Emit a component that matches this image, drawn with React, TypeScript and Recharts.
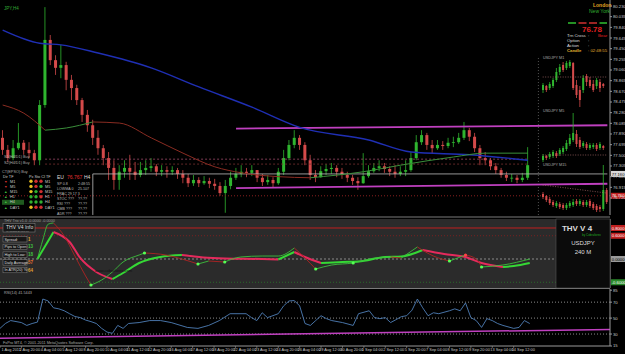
import React from 'react'
import { ComposedChart, Bar, Line, XAxis, YAxis, ReferenceLine } from 'recharts'

const BULL = '#2fb52f'
const BEAR = '#d44a4a'
const SLOTS = 115
const FONT = '"Liberation Sans", Arial, sans-serif'

// USDJPY H4 candles: open of the first bar, then close / high / low of each bar
const firstOpen = 77.82
const closes = [
  77.60, 77.45, 77.63, 77.73, 77.60, 77.54, 77.41, 78.42, 79.61, 79.24,
  79.10, 79.15, 78.88, 78.73, 78.51, 78.24, 78.05, 77.82, 77.63, 77.45,
  77.27, 77.05, 77.20, 77.27, 77.20, 77.14, 77.23, 77.27, 77.30, 77.20,
  77.23, 77.20, 77.23, 77.16, 77.09, 76.99, 77.05, 76.99, 77.03, 76.98,
  76.94, 76.81, 76.94, 77.09, 77.16, 77.20, 77.18, 77.23, 77.09, 77.01,
  77.05, 76.99, 77.20, 77.45, 77.69, 77.82, 77.69, 77.41, 77.14, 77.10,
  77.21, 77.25, 77.27, 77.20, 77.14, 77.09, 77.03, 76.99, 77.12, 77.21,
  77.27, 77.30, 77.25, 77.20, 77.16, 77.20, 77.23, 77.45, 77.74, 77.87,
  77.69, 77.63, 77.69, 77.67, 77.73, 77.74, 77.82, 77.96, 77.84, 77.63,
  77.45, 77.41, 77.30, 77.23, 77.14, 77.09, 77.09, 77.05, 77.09, 77.32,
]
const highs = [
  77.96, 77.69, 77.78, 78.09, 77.78, 77.74, 77.60, 78.51, 80.21, 79.70,
  79.33, 79.52, 79.21, 78.97, 78.79, 78.55, 78.33, 78.15, 77.96, 77.69,
  77.56, 77.41, 77.32, 77.41, 77.51, 77.38, 77.38, 77.41, 77.45, 77.34,
  77.32, 77.30, 77.30, 77.27, 77.23, 77.16, 77.14, 77.10, 77.12, 77.09,
  77.07, 77.01, 77.05, 77.20, 77.27, 77.32, 77.27, 77.32, 77.23, 77.16,
  77.14, 77.10, 77.27, 77.60, 77.78, 77.96, 77.87, 77.74, 77.51, 77.23,
  77.30, 77.34, 77.36, 77.32, 77.27, 77.20, 77.14, 77.10, 77.54, 77.32,
  77.36, 77.41, 77.36, 77.30, 77.32, 77.30, 77.41, 77.56, 77.87, 77.96,
  77.91, 77.78, 77.78, 77.76, 77.82, 77.84, 77.91, 78.11, 78.00, 77.91,
  77.69, 77.56, 77.45, 77.36, 77.27, 77.20, 77.16, 77.14, 77.18, 77.65,
]
const lows = [
  77.51, 77.38, 77.41, 77.60, 77.51, 77.45, 77.32, 77.32, 78.37, 79.15,
  78.97, 78.91, 78.69, 78.51, 78.42, 78.11, 77.93, 77.69, 77.51, 77.32,
  77.05, 76.87, 76.87, 77.09, 77.05, 77.05, 77.10, 77.14, 77.20, 77.12,
  77.12, 77.09, 77.14, 77.07, 76.99, 76.92, 76.94, 76.92, 76.96, 76.90,
  76.87, 76.76, 76.45, 76.88, 77.05, 77.10, 77.10, 77.12, 77.01, 76.94,
  76.96, 76.92, 76.96, 77.14, 77.41, 77.63, 77.60, 77.32, 77.05, 77.01,
  77.09, 77.14, 77.16, 77.10, 77.07, 77.01, 76.96, 76.87, 76.98, 77.09,
  77.18, 77.21, 77.18, 77.12, 77.09, 77.12, 77.12, 77.20, 77.41, 77.69,
  77.60, 77.54, 77.60, 77.60, 77.63, 77.65, 77.71, 77.78, 77.76, 77.56,
  77.32, 77.32, 77.23, 77.16, 77.09, 77.03, 77.01, 76.99, 77.01, 77.05,
]

const priceTicks = [
  80.23, 80.035, 79.84, 79.645, 79.45, 79.255, 79.06, 78.865, 78.67, 78.475,
  78.28, 78.085, 77.89, 77.695, 77.5, 77.305, 77.11, 76.915, 76.72,
]

const dateLabels = [
  '1 Aug 2011', '2 Aug 20:00', '4 Aug 04:00', '5 Aug 12:00', '8 Aug 20:00',
  '10 Aug 04:00', '11 Aug 12:00', '12 Aug 20:00', '16 Aug 04:00', '17 Aug 12:00',
  '18 Aug 20:00', '22 Aug 04:00', '23 Aug 12:00', '24 Aug 20:00', '26 Aug 04:00',
  '29 Aug 12:00', '30 Aug 20:00', '1 Sep 04:00', '2 Sep 12:00', '5 Sep 20:00',
  '7 Sep 04:00', '8 Sep 12:00', '9 Sep 20:00', '13 Sep 04:00', '14 Sep 12:00',
]

type Pt = [number, number]

// moving averages [bar, price]
const maBlue: Pt[] = [
  [0, 79.79], [7, 79.55], [11, 79.52], [18, 79.37], [28, 79.1], [37, 78.75],
  [47, 78.38], [56, 78.01], [69, 77.78], [77, 77.56], [88, 77.51], [99, 77.41],
]
const emaPts: Pt[] = [
  [0, 78.42], [4, 78.27], [8, 77.96], [12, 78.0], [17, 78.11], [22, 78.09],
  [28, 77.82], [34, 77.54], [40, 77.29], [45, 77.18], [52, 77.11], [58, 77.09],
  [68, 77.2], [75, 77.32], [85, 77.47], [91, 77.54], [99, 77.54],
]

// THV Trix oscillator [bar, value]
const oscSlow: Pt[] = [
  [7, 0], [10, 0.697], [13, 0.439], [15, 0.026], [18, -0.335], [21, -0.516],
  [23, -0.361], [26, -0.103], [30, 0.052], [34, 0.103], [38, 0.04], [42, 0.013],
  [49, 0], [52, -0.013], [55, 0.181], [57, 0.052], [60, -0.103], [64, -0.077],
  [67, -0.065], [72, 0.052], [75, 0.065], [79, 0.232], [83, 0.129], [87, 0.052],
  [90, -0.103], [94, -0.206], [96, -0.181], [99, -0.103],
]
const oscFast: Pt[] = [
  [7, 0], [8, 0.49], [9, 0.9], [10, 0.93], [12, 0.594], [14, 0.077], [16, -0.439],
  [17, -0.671], [19, -0.542], [21, -0.335], [23, -0.077], [26, 0.103], [27, 0.155],
  [31, 0.103], [34, 0], [37, -0.129], [39, -0.052], [42, -0.077], [45, 0.052],
  [49, 0.077], [52, 0.077], [55, 0.284], [57, 0.026], [59, -0.258], [62, -0.155],
  [66, -0.103], [70, 0.026], [73, 0.052], [75, 0.026], [78, 0.31], [81, 0.077],
  [84, -0.052], [87, 0.103], [89, 0], [90, -0.206], [94, -0.155], [99, 0],
]
const oscMarks: [number, string][] = [
  [17, '#5f5'], [27, '#5f5'], [37, '#5f5'], [42, '#5f5'], [59, '#5f5'],
  [66, '#5f5'], [84, '#5f5'], [87, '#f44'], [90, '#5f5'],
]

// RSI(14) [bar, value]
const rsiPts: Pt[] = [
  [0, 37.1], [1, 43.2], [2, 46.9], [4, 44.4], [5, 40.8], [6, 43.2], [7, 45], [8, 73.9],
  [9, 71.5], [10, 62.9], [11, 61.6], [12, 59.2], [13, 55.5], [14, 52], [15, 50.6],
  [16, 47.5], [17, 45.6], [18, 43.2], [19, 37.1], [20, 32.5], [21, 30.9], [22, 40.8],
  [23, 37.1], [24, 43.2], [26, 44.4], [28, 46.9], [30, 46.9], [32, 44.4], [35, 38.3],
  [37, 37.1], [39, 40.8], [41, 46.9], [43, 55.5], [46, 55.5], [47, 50.6], [48, 46.9],
  [49, 56.7], [50, 50.6], [52, 55.5], [53, 65.3], [54, 71.5], [55, 72], [56, 65.3],
  [57, 43.2], [58, 40.8], [59, 46.9], [60, 53], [61, 49.3], [62, 46.9], [64, 44.4],
  [66, 40.8], [67, 55.5], [69, 59.2], [70, 50.6], [71, 49.3], [72, 50.6], [73, 44.4],
  [74, 48], [75, 51.8], [76, 53], [77, 60], [78, 73.9], [79, 62.9], [80, 53],
  [81, 56.7], [82, 55.5], [84, 59.2], [85, 61.6], [86, 59.2], [87, 69], [88, 50.6],
  [89, 46.9], [90, 38.3], [91, 49.3], [92, 46.9], [93, 43.2], [94, 40.8], [96, 37.1],
  [97, 38.3], [98, 46.9], [99, 43.2],
]

// small USDJPY windows [open, high, low, close]
const m1 = [
  [76.808, 76.815, 76.805, 76.813], [76.812, 76.813, 76.806, 76.808], [76.81, 76.816, 76.808, 76.814],
  [76.812, 76.82, 76.81, 76.818], [76.818, 76.83, 76.816, 76.826], [76.826, 76.834, 76.823, 76.831],
  [76.833, 76.836, 76.826, 76.828], [76.83, 76.837, 76.828, 76.835], [76.832, 76.838, 76.83, 76.836],
  [76.835, 76.836, 76.808, 76.81], [76.813, 76.818, 76.8, 76.803], [76.808, 76.812, 76.791, 76.798],
  [76.808, 76.823, 76.805, 76.82], [76.822, 76.824, 76.812, 76.816], [76.818, 76.821, 76.81, 76.812],
  [76.814, 76.818, 76.806, 76.808], [76.812, 76.82, 76.809, 76.818], [76.816, 76.819, 76.806, 76.81],
  [76.814, 76.815, 76.81, 76.812],
]
const m5 = [
  [76.79, 76.796, 76.788, 76.794], [76.794, 76.795, 76.79, 76.792], [76.793, 76.798, 76.791, 76.796],
  [76.794, 76.8, 76.792, 76.798], [76.797, 76.799, 76.792, 76.794], [76.796, 76.802, 76.794, 76.8],
  [76.798, 76.804, 76.796, 76.802], [76.801, 76.81, 76.799, 76.807], [76.806, 76.816, 76.804, 76.812],
  [76.81, 76.837, 76.808, 76.817], [76.816, 76.82, 76.803, 76.806], [76.81, 76.813, 76.801, 76.803],
  [76.804, 76.809, 76.802, 76.807], [76.806, 76.808, 76.8, 76.802], [76.802, 76.807, 76.8, 76.805],
  [76.803, 76.807, 76.801, 76.805], [76.805, 76.807, 76.799, 76.801], [76.802, 76.808, 76.8, 76.806],
  [76.804, 76.805, 76.8, 76.802],
]
const m15 = [
  [76.81, 76.812, 76.805, 76.807], [76.808, 76.809, 76.802, 76.804], [76.805, 76.807, 76.799, 76.801],
  [76.802, 76.804, 76.797, 76.799], [76.798, 76.803, 76.796, 76.801], [76.8, 76.802, 76.795, 76.797],
  [76.799, 76.801, 76.794, 76.796], [76.796, 76.801, 76.794, 76.799], [76.798, 76.803, 76.796, 76.801],
  [76.799, 76.805, 76.797, 76.802], [76.803, 76.805, 76.798, 76.8], [76.8, 76.805, 76.798, 76.803],
  [76.802, 76.804, 76.797, 76.799], [76.799, 76.804, 76.797, 76.802], [76.803, 76.805, 76.796, 76.798],
  [76.8, 76.802, 76.794, 76.796], [76.798, 76.8, 76.792, 76.794], [76.797, 76.799, 76.792, 76.795],
  [76.795, 76.839, 76.793, 76.814], [76.814, 76.816, 76.8, 76.802],
]

// info panel texts
const tfRows = [
  { tf: 'M1', up: false, dots: ['#e8c020', '#d03030', '#d03030'] },
  { tf: 'M5', up: false, dots: ['#e8c020', '#d03030', '#30b030'] },
  { tf: 'M15', up: true, dots: ['#e8c020', '#30b030', '#d03030'] },
  { tf: 'H1', up: true, dots: ['#30b030', '#30b030', '#d03030'] },
  { tf: 'H4', up: true, dots: ['#30b030', '#30b030', '#30b030'] },
  { tf: 'DAY1', up: true, dots: ['#e8c020', '#d03030', '#d03030'] },
]
const euRows = [
  ['SP 0.8', '2:48:55'], ['LOWMA  0', '25.107'], ['FRAC  29  17  3', ''],
  ['STOC  ???', '??.??'], ['RSI    ???', '??.??'], ['CMB   ???', '??.??'], ['ADR   ???', '??.??'],
]
const thvRows = [
  ['Spread:', '1', '#e0a030'], ['Pips to Open:', '13', '#40c040'], ['High to Low:', '18', '#40c040'],
  ['Daily Average:', '57', '#e07030'], ['In ATR(20) %:', '64', '#e0a030'],
]

function splitRuns(pts: Pt[]) {
  const runs: { up: boolean; pts: Pt[] }[] = []
  let cur: Pt[] = [pts[0]]
  let dir: boolean | null = null
  for (let k = 1; k < pts.length; k++) {
    const up = pts[k][1] >= pts[k - 1][1]
    if (dir === null || up === dir) {
      cur.push(pts[k])
      dir = up
    } else {
      runs.push({ up: dir, pts: cur })
      cur = [pts[k - 1], pts[k]]
      dir = up
    }
  }
  runs.push({ up: !!dir, pts: cur })
  return runs
}

const emptyRows = () => Array.from({ length: SLOTS }, (_, j) => ({ j } as any))

const mainRows = emptyRows()
closes.forEach((c, j) => {
  mainRows[j].open = j === 0 ? firstOpen : closes[j - 1]
  mainRows[j].close = c
  mainRows[j].high = highs[j]
  mainRows[j].low = lows[j]
})
maBlue.forEach(([j, v]) => (mainRows[j].ma = v))
const emaRuns = splitRuns(emaPts)
emaRuns.forEach((r, n) => r.pts.forEach(([j, v]) => (mainRows[j]['ema' + n] = v)))

const oscRows = emptyRows()
const slowRuns = splitRuns(oscSlow)
slowRuns.forEach((r, n) => r.pts.forEach(([j, v]) => (oscRows[j]['s' + n] = v)))
const fastRuns = splitRuns(oscFast)
fastRuns.forEach((r, n) => r.pts.forEach(([j, v]) => (oscRows[j]['f' + n] = v)))
oscMarks.forEach(([j, c]) => {
  const p = oscFast.find((q) => q[0] === j)
  if (p) {
    oscRows[j].mark = p[1]
    oscRows[j].markColor = c
  }
})

const rsiRows = emptyRows()
rsiPts.forEach(([j, v]) => (rsiRows[j].rsi = v))

const rangeKey = (d: any) => (d.high != null ? [d.low, d.high] : null)

function Candle(props: any) {
  const { x, y, width, height, payload } = props
  if (!payload || payload.high == null || !isFinite(y) || !isFinite(height)) return <g />
  const { open, close, high, low } = payload
  const color = close >= open ? BULL : BEAR
  const k = high > low ? height / (high - low) : 0
  const top = y + (high - Math.max(open, close)) * k
  const bottom = y + (high - Math.min(open, close)) * k
  const cx = x + width / 2
  return (
    <g>
      <line x1={cx} x2={cx} y1={y} y2={y + height} stroke={color} strokeWidth={0.8} />
      <rect x={x} y={top} width={width} height={Math.max(0.8, bottom - top)} fill={color} />
    </g>
  )
}

function Badge(props: any) {
  const { viewBox, text, bg, fg } = props
  if (!viewBox) return null
  const x = viewBox.x + viewBox.width + 1
  const y = viewBox.y
  return (
    <g>
      <rect x={x} y={y - 3} width={14} height={6} fill={bg} />
      <text x={x + 0.7} y={y + 1.6} fontSize={4.2} fill={fg}>
        {text}
      </text>
    </g>
  )
}

function DateTick(props: any) {
  const { x, y, payload } = props
  const label = dateLabels[payload.value / 4]
  return (
    <g>
      <line x1={x} x2={x} y1={y} y2={y + 2} stroke="#999" strokeWidth={0.6} />
      <text x={Math.max(1.5, x - 2)} y={y + 5} fontSize={3.9} fill="#c8c8c8">
        {label}
      </text>
    </g>
  )
}

function MarkDot(props: any) {
  const { cx, cy, payload, index } = props
  if (!payload || payload.markColor == null || cy == null || !isFinite(cy)) return <g key={'m' + index} />
  return <circle key={'m' + index} cx={cx} cy={cy} r={1.6} fill={payload.markColor} />
}

function MiniCandles(props: any) {
  const { data, left, top, height, domain, lineFrom, lineTo } = props
  const rows = Array.from({ length: 20 }, (_, k) =>
    data[k] ? { k, open: data[k][0], high: data[k][1], low: data[k][2], close: data[k][3] } : { k }
  )
  return (
    <div style={{ position: 'absolute', left, top }}>
      <ComposedChart width={67} height={height} data={rows} margin={{ top: 0, right: 0, bottom: 0, left: 0 }}>
        <XAxis dataKey="k" hide />
        <YAxis hide domain={domain} allowDataOverflow />
        <ReferenceLine
          segment={[{ x: 0, y: lineFrom }, { x: 19, y: lineTo }]}
          stroke="#b07070"
          strokeDasharray="1 1.5"
          strokeWidth={0.7}
        />
        <Bar dataKey={rangeKey} barSize={2} isAnimationActive={false} shape={(p: any) => <Candle {...p} />} />
      </ComposedChart>
    </div>
  )
}

function Overlay() {
  return (
    <svg width={625} height={354} style={{ position: 'absolute', left: 0, top: 0, fontFamily: FONT }}>
      {/* panel frames */}
      <line x1={0} x2={610} y1={217} y2={217} stroke="#9a9a9a" strokeWidth={0.8} />
      <line x1={0} x2={610} y1={288.5} y2={288.5} stroke="#9a9a9a" strokeWidth={0.8} />

      <text x={4} y={10} fontSize={4.5} fill="#3a3">JPY,H4</text>

      {/* left signal labels */}
      <text x={4} y={158} fontSize={3.8} fill="#aaa">S1(H4/D1) Buy</text>
      <text x={4} y={164} fontSize={3.8} fill="#aaa">S2(H4/D1) Buy</text>
      <text x={2} y={173} fontSize={3.8} fill="#aaa">CT(EPSO) Buy</text>

      {/* TF table */}
      <text x={3} y={177.5} fontSize={3.8} fill="#ccc">Dir  TF</text>
      <text x={29} y={177.5} fontSize={3.8} fill="#ccc">Px Sto CI  TF</text>
      {tfRows.map((r, n) => {
        const y = 182.5 + n * 5.2
        return (
          <g key={r.tf}>
            {r.tf === 'H4' && <rect x={2} y={y - 3.5} width={22} height={5} fill="#1f5a1f" />}
            <text x={4} y={y} fontSize={3.6} fill={r.up ? '#40c040' : '#d03030'}>{r.up ? '▲' : '▼'}</text>
            <text x={10} y={y} fontSize={3.8} fill="#ccc">{r.tf}</text>
            {r.dots.map((c, k) => (
              <circle key={k} cx={31 + k * 5} cy={y - 1.3} r={1.7} fill={c} />
            ))}
            <text x={45} y={y} fontSize={3.8} fill="#ccc">{r.tf}</text>
          </g>
        )
      })}

      {/* EU table */}
      <text x={57} y={179} fontSize={5} fill="#ddd">EU</text>
      <text x={67} y={179} fontSize={5} fill="#e03030">76.767</text>
      <text x={84} y={179} fontSize={5} fill="#ddd">H4</text>
      {euRows.map((r, n) => (
        <g key={n}>
          <text x={57} y={184.5 + n * 5} fontSize={3.6} fill="#bbb">{r[0]}</text>
          <text x={78} y={184.5 + n * 5} fontSize={3.6} fill="#bbb">{r[1]}</text>
        </g>
      ))}

      {/* session box top right */}
      <text x={593} y={7} fontSize={5} fontWeight="bold" fill="#e0a020">London</text>
      <text x={589} y={13} fontSize={5} fill="#30b030">New York</text>
      <line x1={568} x2={576} y1={23} y2={23} stroke="#30c030" strokeWidth={1.5} />
      <line x1={578.5} x2={586.5} y1={23} y2={23} stroke="#d03030" strokeWidth={1.5} />
      <line x1={589} x2={597} y1={23} y2={23} stroke="#d03030" strokeWidth={1.5} />
      <line x1={599.5} x2={607} y1={23} y2={23} stroke="#30c030" strokeWidth={1.5} />
      <text x={582} y={32} fontSize={8} fontWeight="bold" fill="#e02020">76.78</text>
      <text x={567} y={36.5} fontSize={4.3} fill="#ddd">Trn Cross</text>
      <text x={588} y={36.5} fontSize={4.3} fill="#ddd">:</text>
      <text x={598} y={36.5} fontSize={4.3} fill="#e02020">Bear</text>
      <text x={567} y={41.5} fontSize={4.3} fill="#ddd">Option</text>
      <text x={588} y={41.5} fontSize={4.3} fill="#ddd">:</text>
      <text x={567} y={46.5} fontSize={4.3} fill="#ddd">Action</text>
      <text x={588} y={46.5} fontSize={4.3} fill="#ddd">:</text>
      <text x={567} y={51.5} fontSize={4.3} fontWeight="bold" fill="#e0b030">Candle</text>
      <text x={588} y={51.5} fontSize={4.3} fill="#e0b030">:  02:48:55</text>

      <text x={543} y={59} fontSize={3.8} fill="#aaa">USDJPY M1</text>
      <text x={543} y={111.5} fontSize={3.8} fill="#aaa">USDJPY M5</text>
      <text x={543} y={166} fontSize={3.8} fill="#aaa">USDJPY M15</text>

      {/* THV info boxes */}
      <text x={4} y={222} fontSize={3.8} fill="#999">THV Trix v1.0 -0.0000 -0.0000</text>
      <rect x={3} y={223.5} width={32} height={8.5} fill="#161616" stroke="#888" strokeWidth={0.5} />
      <text x={6} y={229} fontSize={5} fill="#ddd">THV  V4  Info</text>
      <text x={6} y={231.5} fontSize={2.4} fill="#999">(c) Pharsa Di Iorio FF</text>
      {thvRows.map((r, n) => {
        const y = 236.5 + n * 7.7
        return (
          <g key={r[0]}>
            <rect x={3} y={y} width={24} height={5.5} fill="#161616" stroke="#888" strokeWidth={0.5} />
            <text x={4.5} y={y + 4} fontSize={3.8} fill="#ddd">{r[0]}</text>
            <text x={28} y={y + 4.2} fontSize={4.5} fontWeight="bold" fill={r[2]}>{r[1]}</text>
          </g>
        )
      })}
      <text x={95} y={272} fontSize={4} fill="#111">www.cobraforex.com</text>

      <rect x={556} y={219} width={54} height={69} fill="#0b0b0b" stroke="#555" strokeWidth={0.6} />
      <text x={577} y={231} fontSize={8} fontWeight="bold" fill="#ddd" textAnchor="middle">THV V 4</text>
      <text x={582} y={235.5} fontSize={3} fill="#2a2">by Cobraforex</text>
      <text x={583} y={245} fontSize={6} fill="#ddd" textAnchor="middle">USDJPY</text>
      <text x={583} y={254} fontSize={6} fill="#ddd" textAnchor="middle">240 M</text>

      <text x={4} y={294} fontSize={3.8} fill="#aaa">RSI(14) 41.5443</text>
      <text x={3} y={344} fontSize={3.8} fill="#aaa">FxPro MT4, © 2001-2011 MetaQuotes Software Corp.</text>
    </svg>
  )
}

export default function App() {
  const margin = { top: 0, right: 0, bottom: 0, left: 0 }
  return (
    <div
      style={{
        position: 'absolute',
        left: 0,
        top: 0,
        width: 625,
        height: 354,
        background: '#000',
        overflow: 'hidden',
        fontFamily: FONT,
      }}
    >
      {/* main price window */}
      <div style={{ position: 'absolute', left: 0, top: 0 }}>
        <ComposedChart width={625} height={215} data={mainRows} margin={margin}>
          <XAxis dataKey="j" hide />
          <YAxis
            orientation="right"
            width={15}
            domain={[76.409, 80.34]}
            allowDataOverflow
            ticks={priceTicks}
            interval={0}
            tickFormatter={(v: number) => v.toFixed(3)}
            tick={{ fontSize: 4.2, fill: '#c8c8c8' }}
            tickSize={2}
            tickMargin={1}
            axisLine={{ stroke: '#999' }}
            tickLine={{ stroke: '#999' }}
          />
          <ReferenceLine y={76.76} stroke="#8a2020" strokeDasharray="1 2" label={<Badge text="76.760" bg="#c02020" fg="#fff" />} />
          <ReferenceLine segment={[{ x: 8, y: 77.43 }, { x: 99, y: 77.43 }]} stroke="#a04a6a" strokeDasharray="2 2" strokeWidth={0.8} />
          <ReferenceLine segment={[{ x: 8, y: 77.34 }, { x: 99, y: 77.34 }]} stroke="#7a3030" strokeDasharray="2 2" strokeWidth={0.8} />
          <ReferenceLine segment={[{ x: 17, y: 77.16 }, { x: 114, y: 77.16 }]} stroke="#bdbdbd" strokeWidth={0.8} />
          <ReferenceLine segment={[{ x: 17, y: 77.16 }, { x: 17, y: 76.41 }]} stroke="#bdbdbd" strokeWidth={0.8} />
          <ReferenceLine y={77.16} stroke="none" label={<Badge text="77.160" bg="#d8d8d8" fg="#000" />} />
          <ReferenceLine segment={[{ x: 101, y: 79.28 }, { x: 101, y: 76.41 }]} stroke="#777" strokeDasharray="1 2" strokeWidth={0.7} />
          <ReferenceLine segment={[{ x: 44, y: 77.99 }, { x: 114, y: 78.05 }]} stroke="#c040c0" strokeWidth={1.8} />
          <ReferenceLine segment={[{ x: 44, y: 76.9 }, { x: 114, y: 76.98 }]} stroke="#c040c0" strokeWidth={1.8} />
          <Line dataKey="ma" type="monotone" connectNulls stroke="#1f2fb4" strokeWidth={1.4} dot={false} isAnimationActive={false} />
          {emaRuns.map((r, n) => (
            <Line
              key={'ema' + n}
              dataKey={'ema' + n}
              type="monotone"
              connectNulls
              stroke={r.up ? '#3a8f3a' : '#8a2c22'}
              strokeWidth={1}
              dot={false}
              isAnimationActive={false}
            />
          ))}
          <Bar dataKey={rangeKey} barSize={3} isAnimationActive={false} shape={(p: any) => <Candle {...p} />} />
        </ComposedChart>
      </div>

      <MiniCandles data={m1} left={541} top={58} height={52} domain={[76.788, 76.84]} lineFrom={76.821} lineTo={76.821} />
      <MiniCandles data={m5} left={541} top={110} height={53} domain={[76.787, 76.84]} lineFrom={76.795} lineTo={76.795} />
      <MiniCandles data={m15} left={541} top={164} height={51} domain={[76.789, 76.84]} lineFrom={76.819} lineTo={76.811} />

      {/* THV oscillator window */}
      <div style={{ position: 'absolute', left: 0, top: 219, width: 610, height: 69, background: '#2b2b2b' }} />
      <div style={{ position: 'absolute', left: 0, top: 219 }}>
        <ComposedChart width={625} height={69} data={oscRows} margin={margin}>
          <XAxis dataKey="j" hide />
          <YAxis orientation="right" width={15} domain={[-0.748, 1.032]} allowDataOverflow tick={false} axisLine={{ stroke: '#999' }} tickLine={false} />
          <ReferenceLine y={0.8} stroke="#c02020" strokeWidth={1} label={<Badge text="0.8000" bg="#c02020" fg="#fff" />} />
          <ReferenceLine y={0.6} stroke="#7a2020" strokeDasharray="1 2" label={<Badge text="0.6000" bg="#c02020" fg="#fff" />} />
          <ReferenceLine y={0} stroke="#8a8a8a" strokeDasharray="2 2" label={<Badge text="0.0000" bg="#9a9a9a" fg="#000" />} />
          <ReferenceLine y={-0.6} stroke="#2a6a2a" strokeDasharray="1 2" label={<Badge text="-0.6000" bg="#2a8a2a" fg="#fff" />} />
          {slowRuns.map((r, n) => (
            <Line
              key={'s' + n}
              dataKey={'s' + n}
              type="monotone"
              connectNulls
              stroke={r.up ? '#35d835' : '#e52a5c'}
              strokeWidth={2}
              dot={false}
              isAnimationActive={false}
            />
          ))}
          {fastRuns.map((r, n) => (
            <Line
              key={'f' + n}
              dataKey={'f' + n}
              type="monotone"
              connectNulls
              stroke={r.up ? '#3cbf3c' : '#b02222'}
              strokeWidth={0.9}
              dot={false}
              isAnimationActive={false}
            />
          ))}
          <Line dataKey="mark" stroke="none" dot={(p: any) => <MarkDot {...p} />} isAnimationActive={false} />
        </ComposedChart>
      </div>

      {/* RSI window */}
      <div style={{ position: 'absolute', left: 0, top: 289 }}>
        <ComposedChart width={625} height={65} data={rsiRows} margin={margin}>
          <XAxis
            dataKey="j"
            height={8}
            ticks={dateLabels.map((_, n) => n * 4)}
            interval={0}
            tick={(p: any) => <DateTick {...p} />}
            tickLine={false}
            tickSize={0}
            tickMargin={0}
            axisLine={{ stroke: '#999' }}
          />
          <YAxis
            orientation="right"
            width={15}
            domain={[15, 86.5]}
            allowDataOverflow
            ticks={[85, 70, 50, 30, 15]}
            interval={0}
            tick={{ fontSize: 4.2, fill: '#c8c8c8' }}
            tickSize={2}
            tickMargin={1}
            axisLine={{ stroke: '#999' }}
            tickLine={{ stroke: '#999' }}
          />
          <ReferenceLine y={70} stroke="#8a8a8a" strokeDasharray="1 2" />
          <ReferenceLine y={50} stroke="#8a8a8a" strokeDasharray="1 2" />
          <ReferenceLine y={30} stroke="#8a8a8a" strokeDasharray="1 2" />
          <ReferenceLine segment={[{ x: 0, y: 24.8 }, { x: 114, y: 35.8 }]} stroke="#c040c0" strokeWidth={1.5} />
          <Line dataKey="rsi" type="linear" connectNulls stroke="#4f7fb8" strokeWidth={0.9} dot={false} isAnimationActive={false} />
        </ComposedChart>
      </div>

      <Overlay />
    </div>
  )
}
